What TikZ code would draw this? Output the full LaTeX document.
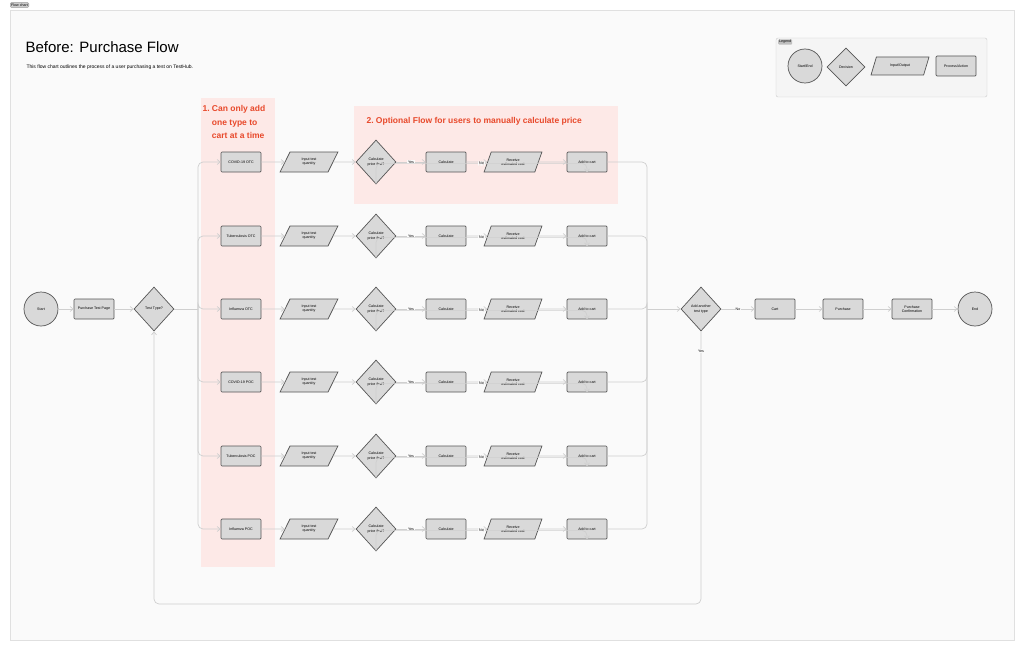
\documentclass[tikz,border=0pt]{standalone}
\usepackage{fontspec}
\setmainfont{Liberation Sans}
\usetikzlibrary{shapes.geometric,arrows.meta}
\definecolor{shapefill}{HTML}{D9D9D9}
\definecolor{shapeline}{HTML}{555555}
\definecolor{wire}{HTML}{CFCFCF}
\definecolor{note}{HTML}{E8492B}
\definecolor{notebg}{HTML}{FDE9E7}
\tikzset{
  box/.style={draw=shapeline,fill=shapefill,line width=0.7pt,rounded corners=1pt,
    minimum width=40pt,minimum height=20pt,inner sep=1pt,font=\fontsize{3.6}{4.2}\selectfont,align=center},
  io/.style={draw=shapeline,fill=shapefill,line width=0.7pt,trapezium,trapezium left angle=65,
    trapezium right angle=115,trapezium stretches=true,minimum width=58pt,minimum height=20pt,
    inner sep=1pt,font=\fontsize{3.6}{4.2}\selectfont,align=center},
  ask/.style={draw=shapeline,fill=shapefill,line width=0.7pt,diamond,minimum width=40pt,
    minimum height=44pt,inner sep=0pt,text width=20pt,font=\fontsize{3.6}{4.2}\selectfont,align=center},
  term/.style={draw=shapeline,fill=shapefill,line width=0.7pt,circle,minimum size=34pt,
    inner sep=0pt,font=\fontsize{3.6}{4.2}\selectfont},
  wirearr/.style={draw=wire,line width=0.7pt,-{Straight Barb[length=3pt,width=5pt]}},
  wireline/.style={draw=wire,line width=0.7pt},
  tag/.style={font=\fontsize{3.6}{4.2}\selectfont,fill=#1,inner sep=1pt},
}
\begin{document}
\begin{tikzpicture}[x=1pt,y=-1pt]
  \useasboundingbox (0,0) rectangle (1024,650);
  \fill[white] (0,0) rectangle (1024,650);
  \draw[fill=black!2,draw=black!12] (10,10) rectangle (1014,640);%
  \node[tag=black!20,rounded corners=1pt,draw=black!40,anchor=west] (frametag) at (10,5) {Flow chart};%

  \node[anchor=west,font=\fontsize{15}{18}\selectfont] (title) at (22,47) {Before: Purchase Flow};%
  \node[anchor=west,font=\fontsize{5}{6}\selectfont] (subtitle) at (23,67) {This flow chart outlines the process of a user purchasing a test on TestHub.};%

  % notes
  \fill[notebg] (201,98) rectangle (275,567);%
  \fill[notebg] (354,106) rectangle (618,204);%
  \node[anchor=north west,text=note,font=\bfseries\fontsize{8.5}{13.5}\selectfont,align=left] (note1) at (199,102)
    {1.\ Can only add\\\hphantom{1.\ }one type to\\\hphantom{1.\ }cart at a time};%
  \node[anchor=west,text=note,font=\bfseries\fontsize{8.5}{10}\selectfont] (note2) at (363,121)
    {2.\ Optional Flow for users to manually calculate price};%

  % legend
  \draw[fill=black!4,draw=black!20,rounded corners=2pt] (776,38) rectangle (987,97);%
  \node[tag=black!25,rounded corners=1pt,anchor=west] (legtag) at (778,42) {Legend};%
  \node[term] (legterm) at (805,66) {Start/End};%
  \node[ask,minimum width=38pt,minimum height=38pt] (legask) at (846,67) {Decision};%
  \node[io,minimum width=58pt,minimum height=18pt] (legio) at (900,66) {Input/Output};%
  \node[box] (legbox) at (956,66) {Process/Action};%

  % main line
  \node[term] (start) at (41,309) {Start};%
  \node[box] (page) at (94,309) {Purchase Test Page};%
  \node[ask] (type) at (154,309) {Test Type?};%
  \draw[wirearr] (start) -- (page);%
  \draw[wirearr] (page) -- (type);%
  \coordinate (split) at (198,309);%
  \coordinate (merge) at (647,309);%
  \draw[wireline] (type.east) -- (split);%

  \foreach \i/\y/\name in {1/162/COVID-19 OTC,2/236/Tuberculosis OTC,3/309/Influenza OTC,
                            4/382/COVID-19 POC,5/456/Tuberculosis POC,6/529/Influenza POC}{
    \node[box] (P\i) at (241,\y) {\name};%
    \node[io] (I\i) at (309,\y) {Input test\\quantity};%
    \node[ask] (Q\i) at (376,\y) {Calculate price first?};%
    \node[box] (C\i) at (446,\y) {Calculate};%
    \node[io] (R\i) at (513,\y) {Receive\\estimated cost};%
    \node[box] (A\i) at (587,\y) {Add to cart};%
    \draw[wirearr,rounded corners=5pt] (split) |- (P\i.west);%
    \draw[wirearr] (P\i) -- (I\i);%
    \draw[wirearr] (I\i) -- (Q\i);%
    \draw[wirearr] (Q\i) -- node[fill=black!2,font=\fontsize{3.6}{4.2}\selectfont,inner sep=1pt] {Yes} (C\i);%
    \draw[wirearr] (C\i) -- (R\i);%
    \draw[wirearr] (R\i) -- (A\i);%
    \draw[wirearr,rounded corners=5pt] (Q\i.south) |- ([yshift=9pt]A\i.south) node[pos=0.75,fill=black!2,font=\fontsize{3.6}{4.2}\selectfont,inner sep=1pt] {No} -- (A\i.south);%
    \draw[wireline,rounded corners=5pt] (A\i.east) -| (merge);%
  }

  \node[ask] (more) at (701,309) {Add another test type};%
  \node[box] (cart) at (775,309) {Cart};%
  \node[box] (buy) at (843,309) {Purchase};%
  \node[box] (confirm) at (912,309) {Purchase\\Confirmation};%
  \node[term] (end) at (975,309) {End};%
  \draw[wirearr] (merge) -- (more);%
  \draw[wirearr] (more) -- node[fill=black!2,font=\fontsize{3.6}{4.2}\selectfont,inner sep=1pt] {No} (cart);%
  \draw[wirearr] (cart) -- (buy);%
  \draw[wirearr] (buy) -- (confirm);%
  \draw[wirearr] (confirm) -- (end);%
  \draw[wirearr,rounded corners=5pt] (more.south) -- (701,604) -| (type.south);%
  \node[fill=black!2,font=\fontsize{3.6}{4.2}\selectfont,inner sep=1pt] (yeslbl) at (701,351) {Yes};%
\end{tikzpicture}
\end{document}
